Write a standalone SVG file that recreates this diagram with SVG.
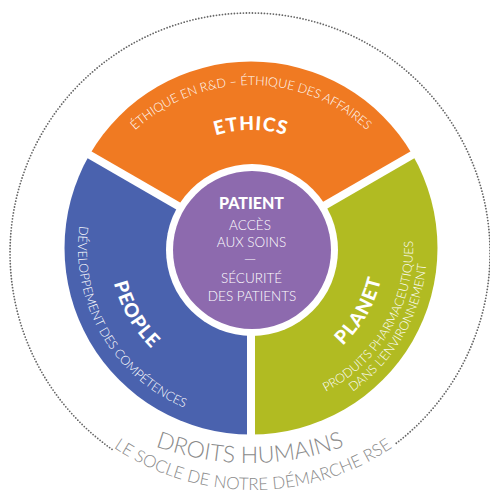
<svg xmlns="http://www.w3.org/2000/svg" width="490" height="492" viewBox="0 0 490 492">
<style>
.lt{font-family:Lato,"Liberation Sans",sans-serif;font-weight:300;fill:#fff}
.bd{font-family:Lato,"Liberation Sans",sans-serif;font-weight:900;fill:#fff}
.gr{font-family:Lato,"Liberation Sans",sans-serif;font-weight:300;fill:#8a8a8a}
.sep{stroke:#fff;stroke-width:8;fill:none}
</style>
<defs>
<path id="pTop" d="M80,256 A171,171 0 0 1 422,256"/>
<path id="pEth" d="M133,248 A118,118 0 0 1 369,248"/>
<path id="pLeft" d="M101.2,161.5 A173,173 0 0 0 251,421"/>
<path id="pPeo" d="M128.5,177.25 A141.5,141.5 0 0 0 251,389.5"/>
<path id="pR1" d="M251,410 A162,162 0 0 0 391.3,167"/>
<path id="pR2" d="M251,424 A176,176 0 0 0 403.4,160"/>
<path id="pPla" d="M251,382 A134,134 0 0 0 367,181"/>
<path id="pDH" d="M111.5,425.9 A277,277 0 0 0 388.5,425.9"/>
<path id="pSoc" d="M92.3,431.5 A250,250 0 0 0 413.7,431.5"/>
</defs>
<g id="foundation">
<path d="M112,449.3 A240,240 0 1 1 394.4,444.7" fill="none" stroke="#666" stroke-width="1.8" stroke-linecap="round" stroke-dasharray="0 3"/>
<text class="gr" font-size="23" text-anchor="middle"><textPath href="#pDH" startOffset="50%">DROITS HUMAINS</textPath></text>
<text class="gr" font-size="17" text-anchor="middle"><textPath href="#pSoc" startOffset="50%">LE SOCLE DE NOTRE DÉMARCHE RSE</textPath></text>
</g>
<g id="ethics">
<path d="M251,248 L89.5,154.75 A186.5,186.5 0 0 1 412.5,154.75 Z" fill="#F07A22"/>
<text class="lt" font-size="12.5" text-anchor="middle"><textPath href="#pTop" startOffset="50%">ÉTHIQUE EN R&amp;D – ÉTHIQUE DES AFFAIRES</textPath></text>
<text class="bd" font-size="19" letter-spacing="1" text-anchor="middle"><textPath href="#pEth" startOffset="50%">ETHICS</textPath></text>
</g>
<g id="planet">
<path d="M251,248 L412.5,154.75 A186.5,186.5 0 0 1 251,434.5 Z" fill="#B1BB22"/>
<text class="lt" font-size="12.5" text-anchor="middle"><textPath href="#pR1" startOffset="50%">PRODUITS PHARMACEUTIQUES</textPath></text>
<text class="lt" font-size="12.5" text-anchor="middle"><textPath href="#pR2" startOffset="50%">DANS L’ENVIRONNEMENT</textPath></text>
<text class="bd" font-size="19" letter-spacing="1" text-anchor="middle"><textPath href="#pPla" startOffset="50%">PLANET</textPath></text>
</g>
<g id="people">
<path d="M251,248 L251,434.5 A186.5,186.5 0 0 1 89.5,154.75 Z" fill="#4A62AE"/>
<text class="lt" font-size="12.5" text-anchor="middle"><textPath href="#pLeft" startOffset="50%">DÉVELOPPEMENT DES COMPÉTENCES</textPath></text>
<text class="bd" font-size="19" letter-spacing="1" text-anchor="middle"><textPath href="#pPeo" startOffset="50%">PEOPLE</textPath></text>
</g>
<g id="connectors">
<line class="sep" x1="251" y1="248" x2="251" y2="440"/>
<line class="sep" x1="251" y1="248" x2="84" y2="151.6"/>
<line class="sep" x1="251" y1="248" x2="418" y2="151.6"/>
</g>
<g id="patient">
<circle cx="252" cy="250" r="86" fill="#fff"/>
<circle cx="252" cy="250" r="79" fill="#8D6AAE"/>
<text class="bd" x="251.5" y="209" font-size="16" text-anchor="middle">PATIENT</text>
<text class="lt" x="250" y="230" font-size="13.5" text-anchor="middle">ACCÈS</text>
<text class="lt" x="251.5" y="247" font-size="13.5" text-anchor="middle">AUX SOINS</text>
<text class="lt" x="250" y="264" font-size="16" text-anchor="middle">—</text>
<text class="lt" x="251.5" y="283" font-size="13.5" text-anchor="middle">SÉCURITÉ</text>
<text class="lt" x="252" y="301" font-size="13.5" text-anchor="middle">DES PATIENTS</text>
</g>
</svg>
